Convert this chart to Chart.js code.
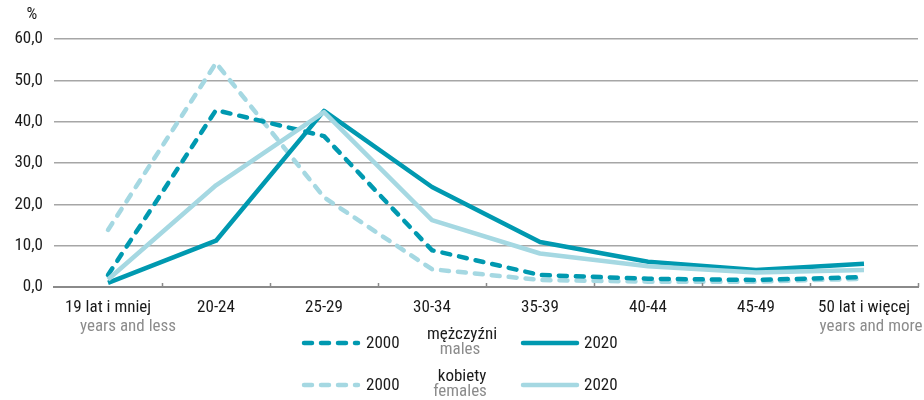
<!DOCTYPE html>
<html><head><meta charset="utf-8">
<script src="https://cdn.jsdelivr.net/npm/chart.js@4.4.1/dist/chart.umd.min.js"></script>
<style>html,body{margin:0;padding:0;background:#fff}#wrap{width:924px;height:400px;position:relative}</style>
</head><body><div id="wrap"><canvas id="c" width="924" height="400"></canvas></div>
<script>
const categories = ["19 lat i mniej","20-24","25-29","30-34","35-39","40-44","45-49","50 lat i więcej"];
const subLabels = ["years and less","","","","","","","years and more"];
const men2000   = [2.9, 42.8, 36.5, 8.9, 2.9, 2.0, 1.7, 2.4];
const men2020   = [1.0, 11.2, 42.6, 24.2, 10.9, 6.1, 4.1, 5.6];
const women2000 = [13.8, 54.2, 21.7, 4.3, 1.7, 1.3, 1.3, 2.0];
const women2020 = [1.8, 24.6, 42.3, 16.2, 8.1, 5.0, 3.5, 4.1];
const yTicks = [0,10,20,30,40,50,60];

const DARK = '#0099b0', LIGHT = '#a5d8e2', GRAY = '#8c8c8c';
const FONT = '"Roboto Condensed","DejaVu Sans Condensed",sans-serif';
const FS = 17;
const DASH = [8,9];

const extras = {
  id:'extras',
  afterDraw(chart){
    const ctx = chart.ctx, xs = chart.scales.x, area = chart.chartArea;
    ctx.save();
    ctx.strokeStyle = '#8a8a8a'; ctx.lineWidth = 1.5;
    const half = (xs.getPixelForValue(1) - xs.getPixelForValue(0)) / 2;
    for (let i = 1; i <= categories.length; i++) {
      const x = Math.round(xs.getPixelForValue(i) - half) + 0.5;
      ctx.beginPath(); ctx.moveTo(x, area.bottom); ctx.lineTo(x, area.bottom - 4); ctx.stroke();
    }
    ctx.fillStyle = '#1a1a1a'; ctx.font = FS + 'px ' + FONT; ctx.textAlign = 'center'; ctx.textBaseline = 'middle';
    ctx.fillText('%', 32, 15);
    ctx.fillStyle = GRAY;
    const offs = [20, 0,0,0,0,0,0, 7];
    subLabels.forEach((s,i)=>{ if(!s) return; ctx.fillText(s, xs.getPixelForValue(i) + offs[i], 327); });
    const rows = [
      {y:343, c:DARK, t:'mężczyźni', s:'males'},
      {y:385, c:LIGHT, t:'kobiety', s:'females'}
    ];
    rows.forEach(r=>{
      ctx.lineWidth = 4.5; ctx.strokeStyle = r.c; ctx.lineCap = 'round';
      ctx.setLineDash(DASH);
      ctx.beginPath(); ctx.moveTo(304, r.y); ctx.lineTo(358, r.y); ctx.stroke();
      ctx.setLineDash([]);
      ctx.beginPath(); ctx.moveTo(523, r.y); ctx.lineTo(577, r.y); ctx.stroke();
      ctx.fillStyle = '#1a1a1a'; ctx.textAlign = 'left';
      ctx.fillText('2000', 366, r.y + 1);
      ctx.fillText('2020', 584, r.y + 1);
      ctx.textAlign = 'center';
      ctx.fillText(r.t, 462, r.y - 8);
      ctx.fillStyle = GRAY;
      ctx.fillText(r.s, 460, r.y + 7);
    });
    ctx.restore();
  }
};

const ds = (label, data, color, dashed, order) => ({
  label, data, borderColor: color, backgroundColor: color, borderWidth: 4.5,
  borderDash: dashed ? DASH : [], borderCapStyle: dashed ? 'round' : 'butt', borderJoinStyle: 'round',
  pointRadius: 0, tension: 0, fill: false, order
});

new Chart(document.getElementById('c'), {
  type: 'line',
  data: {
    labels: categories,
    datasets: [
      ds('mężczyźni 2000', men2000, DARK, true, 2),
      ds('mężczyźni 2020', men2020, DARK, false, 1),
      ds('kobiety 2000', women2000, LIGHT, true, 3),
      ds('kobiety 2020', women2020, LIGHT, false, 0)
    ]
  },
  options: {
    responsive: false, animation: false, devicePixelRatio: 1,
    layout: { padding: { top: 39, right: 6, left: 0, bottom: 0 } },
    plugins: { legend: { display: false }, tooltip: { enabled: false } },
    scales: {
      x: {
        offset: true,
        grid: { display: false },
        border: { display: true, color: '#8a8a8a', width: 2 },
        ticks: { color: '#1a1a1a', font: { family: FONT, size: FS }, padding: 3, maxRotation: 0, autoSkip: false },
        afterFit(s){ s.height = 113; }
      },
      y: {
        min: 0, max: 60,
        afterBuildTicks(s){ s.ticks = yTicks.map(v=>({value:v})); },
        grid: { color: '#a6a6a6', lineWidth: 1.5, drawTicks: false },
        border: { display: false },
        ticks: { color: '#1a1a1a', font: { family: FONT, size: FS }, padding: 11,
                 callback: v => v.toFixed(1).replace('.', ',') },
        afterFit(s){ s.width = 54; }
      }
    }
  },
  plugins: [extras]
});
</script></body></html>
